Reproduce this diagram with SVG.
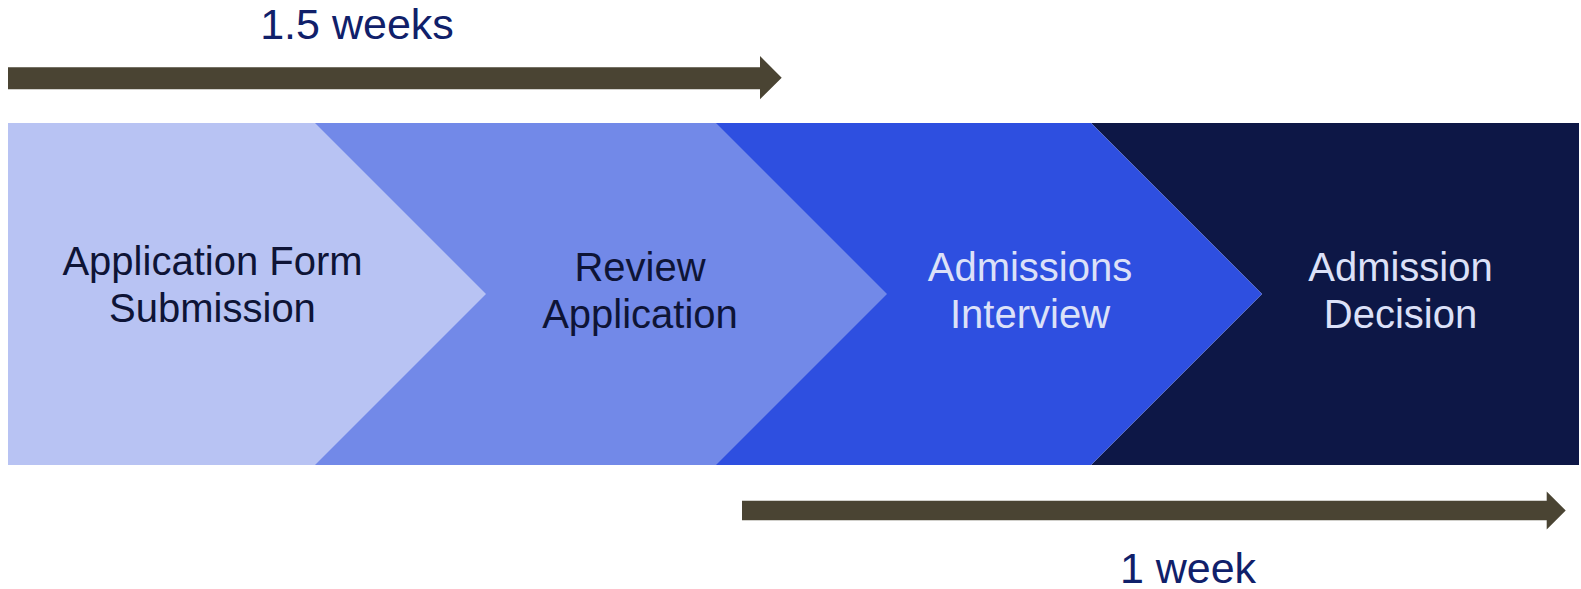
<svg xmlns="http://www.w3.org/2000/svg" width="1581" height="589" viewBox="0 0 1581 589">
  <style>
    .lbl { font-family: "Liberation Sans", Arial, sans-serif; font-size: 40px; text-anchor: middle; }
    .dark { fill: #0e1436; }
    .light { fill: #dce1f8; }
    .dur { font-family: "Liberation Sans", Arial, sans-serif; font-size: 43px; text-anchor: middle; fill: #10206a; }
    .arrow { fill: #4a4433; }
  </style>
  <rect width="1581" height="589" fill="#ffffff"/>
  <g id="node4">
    <polygon points="1091,123 1579,123 1579,465 1091,465 1262,294" fill="#0d1746"/>
    <text class="lbl light" x="1400.5" y="281">Admission</text>
    <text class="lbl light" x="1400.5" y="328">Decision</text>
  </g>
  <g id="node3">
    <polygon points="716,123 1091,123 1262,294 1091,465 716,465" fill="#2e4fe0"/>
    <text class="lbl light" x="1030" y="281">Admissions</text>
    <text class="lbl light" x="1030" y="328">Interview</text>
  </g>
  <g id="node2">
    <polygon points="315,123 716,123 887,294 716,465 315,465" fill="#7289e8"/>
    <text class="lbl dark" x="640" y="281">Review</text>
    <text class="lbl dark" x="640" y="328">Application</text>
  </g>
  <g id="node1">
    <polygon points="8,123 315,123 486,294 315,465 8,465" fill="#b8c3f3"/>
    <text class="lbl dark" x="212.5" y="275">Application Form</text>
    <text class="lbl dark" x="212.5" y="321.5">Submission</text>
  </g>
  <g id="connectors">
    <polygon class="arrow" points="8,67.3 760,67.3 760,56 781.7,77.7 760,99.3 760,89.3 8,89.3"/>
    <polygon class="arrow" points="742,500.7 1546.7,500.7 1546.7,491.5 1565.7,510.5 1546.7,529.5 1546.7,520.3 742,520.3"/>
  </g>
  <g id="labels">
    <text class="dur" x="357" y="39">1.5 weeks</text>
    <text class="dur" x="1188" y="582.7">1 week</text>
  </g>
</svg>
